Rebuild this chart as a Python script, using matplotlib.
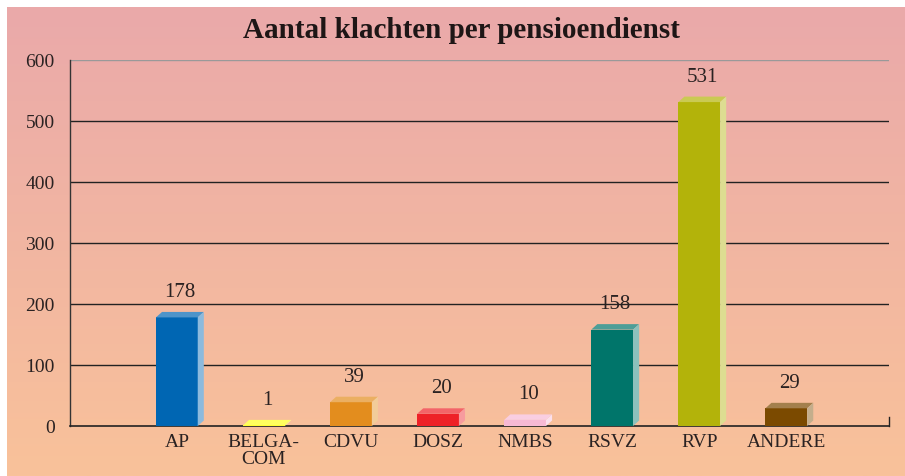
import matplotlib
matplotlib.use("Agg")
import matplotlib.pyplot as plt
import numpy as np
from matplotlib.patches import Polygon
from matplotlib.colors import to_rgb

categories = ["AP", "BELGA-\nCOM", "CDVU", "DOSZ", "NMBS", "RSVZ", "RVP", "ANDERE"]
values = [178, 1, 39, 20, 10, 158, 531, 29]
colors = ["#0066b3", "#ffff1a", "#e38d1e", "#ee2127", "#f7b9d4", "#00756a", "#b3b30a", "#7b4a00"]
yticks = [0, 100, 200, 300, 400, 500, 600]

FONT = "Liberation Serif"


def lighten(c, f):
    r, g, b = to_rgb(c)
    return (r + (1 - r) * f, g + (1 - g) * f, b + (1 - b) * f)


fig = plt.figure(figsize=(9.05, 4.77), dpi=100)

# gradient background panel (white margin at top and left)
bg = fig.add_axes([7 / 905, 0, 898 / 905, 469 / 477], zorder=-10)
top = np.array([234, 169, 170]) / 255
bot = np.array([249, 194, 154]) / 255
t = np.linspace(0, 1, 256)[:, None]
grad = top[None, :] * (1 - t) + bot[None, :] * t
bg.imshow(grad[:, None, :], aspect="auto", extent=[0, 1, 0, 1])
bg.set_axis_off()

ax = fig.add_axes([70 / 905, 50 / 477, 819 / 905, 366 / 477])
ax.patch.set_alpha(0)
x = np.arange(len(categories))
ax.set_xlim(-1.227, 8.18)
ax.set_ylim(0, 600)

for yv in yticks[1:]:
    ax.axhline(yv, color="#999999" if yv == 600 else "#222222", lw=1, zorder=0)

width = 0.48
dx = 0.07
dy = 9
for xi, v, c in zip(x, values, colors):
    x0, x1 = xi - width / 2, xi + width / 2
    ax.add_patch(Polygon([(x0, 0), (x1, 0), (x1, v), (x0, v)], closed=True,
                         facecolor=c, edgecolor="none", zorder=3))
    ax.add_patch(Polygon([(x0, v), (x1, v), (x1 + dx, v + dy), (x0 + dx, v + dy)],
                         closed=True, facecolor=lighten(c, 0.3), edgecolor="none", zorder=3))
    ax.add_patch(Polygon([(x1, 0), (x1 + dx, dy), (x1 + dx, v + dy), (x1, v)],
                         closed=True, facecolor=lighten(c, 0.55), edgecolor="none", zorder=3))
    ax.annotate(str(v), (xi + dx / 2, v + dy), xytext=(0, 11), textcoords="offset pixels",
                ha="center", va="bottom", fontsize=15, family=FONT, color="#2a2222")

ax.set_xticks(x)
ax.set_xticklabels(categories, fontsize=14, family=FONT, color="#2a2222", linespacing=1.0)
ax.set_yticks(yticks)
ax.set_yticklabels([str(v) for v in yticks], fontsize=14, family=FONT, color="#2a2222")
ax.tick_params(axis="both", length=0, pad=11)
ax.tick_params(axis="x", pad=5)

for s in ["top", "right"]:
    ax.spines[s].set_visible(False)
ax.spines["left"].set_color("#333333")
ax.spines["bottom"].set_color("#222222")
ax.spines["left"].set_linewidth(1)
ax.spines["bottom"].set_linewidth(1.2)
ax.plot([8.18, 8.18], [0, 14], color="#222222", lw=1, clip_on=False)

fig.text(0.51, 0.937, "Aantal klachten per pensioendienst", ha="center", va="center",
         fontsize=21, fontweight="bold", family=FONT, color="#1e1616")

fig.savefig("out.png", dpi=100)
